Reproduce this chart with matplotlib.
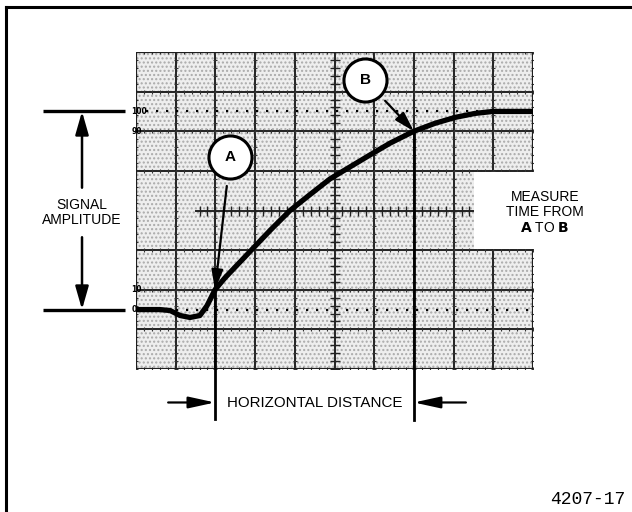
import numpy as np
import matplotlib
matplotlib.use("Agg")
import matplotlib.pyplot as plt
from matplotlib.lines import Line2D
from matplotlib.patches import Rectangle

# graticule: 10 x 8 divisions, vertical scale in percent of signal amplitude
x_divs = np.arange(0, 11)
y_lines = [-30, -10, 10, 30, 50, 70, 90, 110, 130]
ref_levels = [0, 100]
level_labels = ["0", "10", "90", "100"]
level_values = [0, 10, 90, 100]

# rising edge (x in divisions, y in percent)
curve_x = [0, 0.60, 0.86, 1.11, 1.36, 1.61, 1.79, 1.99, 2.24, 2.62, 3.0, 3.38,
           3.88, 4.38, 4.89, 5.39, 5.89, 6.40, 7.0, 7.53, 8.04, 8.54, 8.99, 10]
curve_y = [0, 0, -0.5, -3, -4, -3, 2, 10, 16, 24, 32, 40,
           50, 58, 66, 72, 78, 84, 90, 94, 97, 99, 100, 100]

point_a = (1.99, 10)
point_b = (7.0, 90)

W, H = 632, 512
fig = plt.figure(figsize=(W / 100, H / 100), dpi=100)
ax = fig.add_axes([136 / W, (H - 369) / H, 397 / W, 317 / H])
ax.set_xlim(0, 10)
ax.set_ylim(-30, 130)
ax.axis("off")

# notch cut out of the screen for the side note (right edge, centre rows)
cut_x0, cut_y0, cut_y1 = 8.52, 30.5, 69.5

# stippled screen background
ax.add_patch(Rectangle((0, -30), 10, 160, facecolor="#eeeeee", edgecolor="#aaaaaa",
                       hatch="....", lw=0, zorder=0))
ax.add_patch(Rectangle((0, -30), 10, 160, fill=False, edgecolor="#1e1e1e",
                       lw=1.6, zorder=2))

# grid lines with small minor ticks
for xv in x_divs[1:-1]:
    ax.plot([xv, xv], [-30, 130], color="#222222", lw=1.4, zorder=1)
for yv in y_lines[1:-1]:
    if yv == 50:
        continue
    ax.plot([0, 10], [yv, yv], color="#222222", lw=1.4, zorder=1)

minor_x = np.arange(0, 10.01, 0.2)
minor_y = np.arange(-30, 130.1, 4)
for yv in y_lines:
    if yv == 50:
        continue
    ax.plot(minor_x, np.full_like(minor_x, yv), ls="none", marker="|",
            ms=3, mew=0.8, color="#333333", zorder=1)
for xv in x_divs:
    ax.plot(np.full_like(minor_y, xv), minor_y, ls="none", marker="_",
            ms=3, mew=0.8, color="#333333", zorder=1)

# centre axes with larger ticks
centre_x = np.arange(1.6, 8.41, 0.2)
ax.plot([1.5, 8.5], [50, 50], color="#222222", lw=1.4, zorder=1)
ax.plot(centre_x, np.full_like(centre_x, 50), ls="none", marker="|",
        ms=7, mew=1.0, color="#222222", zorder=1)
ax.plot(np.full_like(minor_y, 5), minor_y, ls="none", marker="_",
        ms=7, mew=1.0, color="#222222", zorder=1)

# white notch
ax.add_patch(Rectangle((cut_x0, cut_y0), 10.2 - cut_x0, cut_y1 - cut_y0,
                       facecolor="white", edgecolor="none", zorder=3,
                       clip_on=False))

# 0 % and 100 % dotted reference lines
for lv in ref_levels:
    ax.plot([0, 10], [lv, lv], color="black", lw=1.6, ls=(0, (1, 3.5)), zorder=2)

for lab, lv in zip(level_labels, level_values):
    ax.text(-0.12, lv, lab, fontsize=5.5, fontweight="bold", ha="left",
            va="center", zorder=5)

# the trace
ax.plot(curve_x, curve_y, color="black", lw=3.8, solid_joinstyle="round",
        solid_capstyle="butt", zorder=4)

# callouts A and B
def callout(label, cx, cy, tip):
    ax.annotate("", xy=tip, xytext=(cx, cy), zorder=6, annotation_clip=False,
                arrowprops=dict(arrowstyle="-|>,head_length=1.2,head_width=0.35",
                                color="black", lw=1.6, shrinkA=21, shrinkB=0))
    ax.plot([cx], [cy], marker="o", ms=31, mfc="white", mec="black", mew=2.2,
            zorder=7, clip_on=False)
    ax.text(cx, cy, label, fontsize=11, fontweight="bold", ha="center",
            va="center", zorder=8, family="Liberation Sans")

callout("A", 2.37, 77.0, point_a)
callout("B", 5.77, 116.1, point_b)

# vertical drop lines from A and B
ax.plot([point_a[0], point_a[0]], [point_a[1], -55.0], color="black", lw=2.0,
        zorder=5, clip_on=False)
ax.plot([point_b[0], point_b[0]], [point_b[1], -55.5], color="black", lw=2.0,
        zorder=5, clip_on=False)

# horizontal distance arrows
arr = dict(arrowstyle="-|>,head_length=1.6,head_width=0.35", color="black",
           lw=1.6, shrinkA=0, shrinkB=0)
ax.annotate("", xy=(point_a[0], -46.9), xytext=(0.81, -46.9),
            arrowprops=arr, annotation_clip=False)
ax.annotate("", xy=(point_b[0], -46.9), xytext=(8.31, -46.9),
            arrowprops=arr, annotation_clip=False)
ax.text(4.5, -47.2, "HORIZONTAL DISTANCE", fontsize=10.9, ha="center",
        va="center", family="Liberation Sans")

# signal amplitude arrows
amp_x = -1.36
for lv in ref_levels:
    ax.plot([-2.34, -0.28], [lv, lv], color="black", lw=2.4, clip_on=False,
            solid_capstyle="butt")
arr2 = dict(arrowstyle="-|>,head_length=1.4,head_width=0.4", color="black",
            lw=1.8, shrinkA=0, shrinkB=0)
ax.annotate("", xy=(amp_x, 100), xytext=(amp_x, 61.5), arrowprops=arr2,
            annotation_clip=False)
ax.annotate("", xy=(amp_x, 0), xytext=(amp_x, 36.5), arrowprops=arr2,
            annotation_clip=False)
ax.text(amp_x, 49, "SIGNAL\nAMPLITUDE", fontsize=10, ha="center", va="center",
        linespacing=1.05, family="Liberation Sans")

# side note
ax.text(10.3, 49, "MEASURE\nTIME FROM\n$\\mathbf{A}$ TO $\\mathbf{B}$",
        fontsize=10, ha="center", va="center", linespacing=1.1,
        family="Liberation Sans", zorder=6)

# figure number and frame
fig.text(625 / W, 1 - 500 / H, "4207-17", fontsize=13, ha="right", va="center",
         family="Liberation Mono")
fig.add_artist(Line2D([6 / W, 6 / W], [0, 1 - 7 / H], color="black", lw=2.2))
fig.add_artist(Line2D([6 / W, 1], [1 - 7 / H, 1 - 7 / H], color="black", lw=2.2))

fig.savefig("out.png", dpi=100)
